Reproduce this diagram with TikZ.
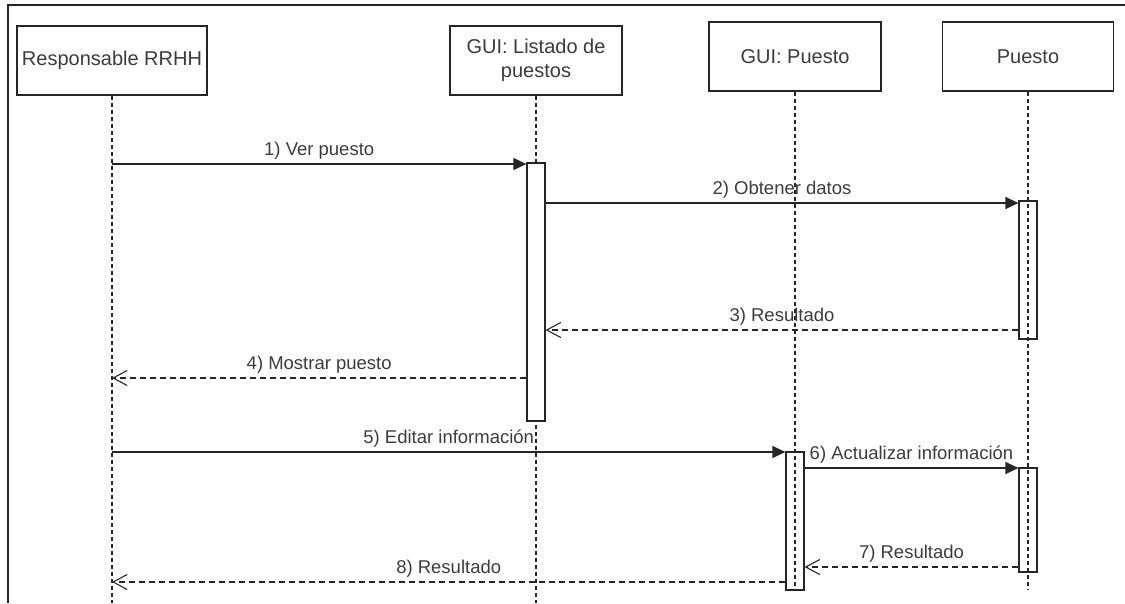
\documentclass[tikz,border=0pt]{standalone}
\usepackage{fontspec}
\setmainfont{Liberation Sans}
\usetikzlibrary{arrows.meta}
\definecolor{ink}{RGB}{38,38,38}
\definecolor{txt}{RGB}{60,60,60}
\begin{document}
\begin{tikzpicture}[x=1pt,y=-1pt,
  actor/.style={draw=ink, line width=1.3pt, fill=white, minimum height=69pt,
    inner sep=0pt, font=\fontsize{20}{24}\selectfont, text=txt, align=center},
  activation/.style={draw=ink, line width=1.2pt, fill=white, minimum width=18pt, inner sep=0pt},
  lifeline/.style={draw=ink, line width=1.1pt, dash pattern=on 4pt off 3pt},
  call/.style={draw=ink, line width=1.2pt, -{Triangle[length=13pt,width=12pt]}},
  reply/.style={draw=ink, line width=1.1pt, dash pattern=on 6pt off 4pt,
    -{Straight Barb[length=14pt,width=15pt]}},
  msg/.style={midway, above=4pt, inner sep=0pt, font=\fontsize{18.5}{22}\selectfont, text=txt}
]
\useasboundingbox (0,0) rectangle (1125,603);

% outer frame (top and left edges)
\draw[ink, line width=1.3pt] (8,603) -- (8,5) -- (1125,5);

% participants
\node[actor, minimum width=190pt] (rr) at (112,60.5) {Responsable RRHH};
\node[actor, minimum width=172pt] (gl) at (536,60.5) {GUI: Listado de\\puestos};
\node[actor, minimum width=172pt] (gp) at (795,56.5) {GUI: Puesto};
\node[actor, minimum width=171pt] (pu) at (1028,56.5) {Puesto};

% lifelines hidden behind activations
\draw[lifeline] (rr.south) -- (rr.south |- 0,603);
\draw[lifeline] (gl.south) -- (gl.south |- 0,603);

% activation bars
\node[activation, minimum height=258pt] (a1) at (536,292) {};
\node[activation, minimum height=138pt] (a2) at (1028,270) {};
\node[activation, minimum height=138pt] (a3) at (795,521) {};
\node[activation, minimum height=104pt] (a4) at (1028,520) {};

% lifelines drawn over activations
\draw[lifeline] (gp.south) -- (gp.south |- 0,590);
\draw[lifeline] (pu.south) -- (pu.south |- 0,590);

% messages
\draw[call]  (rr.south |- 0,164) -- (a1.west |- 0,164) node[msg] {1) Ver puesto};
\draw[call]  (a1.east |- 0,203) -- (a2.west |- 0,203) node[msg] {2) Obtener datos};
\draw[reply] (a2.west |- 0,330) -- (a1.east |- 0,330) node[msg] {3) Resultado};
\draw[reply] (a1.west |- 0,378) -- (rr.south |- 0,378) node[msg] {4) Mostrar puesto};
\draw[call]  (rr.south |- 0,452) -- (a3.west |- 0,452) node[msg] {5) Editar información};
\draw[call]  (a3.east |- 0,468) -- (a4.west |- 0,468) node[msg] {6) Actualizar información};
\draw[reply] (a4.west |- 0,567) -- (a3.east |- 0,567) node[msg] {7) Resultado};
\draw[reply] (a3.west |- 0,582) -- (rr.south |- 0,582) node[msg] {8) Resultado};
\end{tikzpicture}
\end{document}
